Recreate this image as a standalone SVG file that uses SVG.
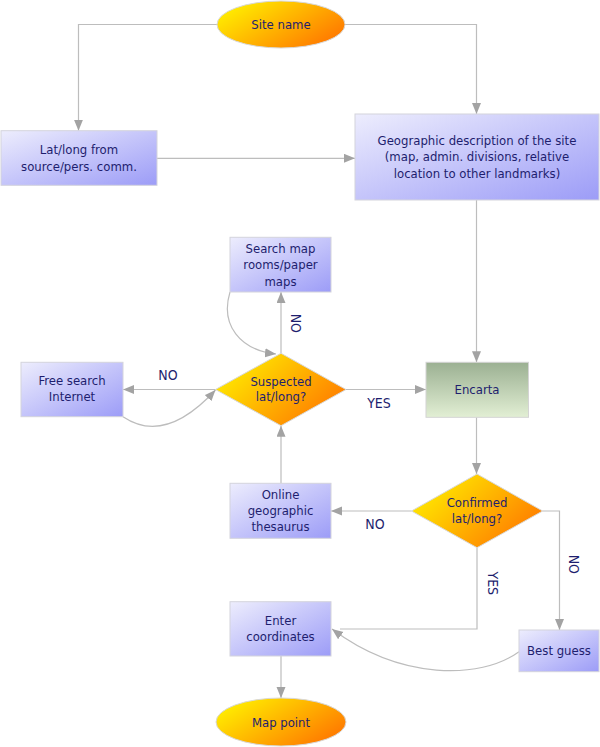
<svg xmlns="http://www.w3.org/2000/svg" width="600" height="747" viewBox="0 0 600 747">
<style>
.box{fill:url(#boxGrad);stroke:#d4d4dc;stroke-width:1}
.oval{fill:url(#ovalGrad);stroke:#d8d8d8;stroke-width:1}
.t{font-family:"DejaVu Sans Condensed","DejaVu Sans",sans-serif;font-size:13px;fill:#1e1e6e;text-anchor:middle}
.lbl{font-family:"DejaVu Sans Condensed","DejaVu Sans",sans-serif;font-size:14px;fill:#1e1e6e;text-anchor:middle}
.c{fill:none;stroke:#bdbdbd;stroke-width:1.2}
.a{marker-end:url(#arr)}
</style>
<defs>
<linearGradient id="boxGrad" x1="0" y1="0" x2="1" y2="1">
<stop offset="0" stop-color="#ededfd"/>
<stop offset="1" stop-color="#9c9cf7"/>
</linearGradient>
<linearGradient id="ovalGrad" x1="0" y1="0.2" x2="1" y2="0.8">
<stop offset="0" stop-color="#fff200"/>
<stop offset="1" stop-color="#ff7300"/>
</linearGradient>
<linearGradient id="greenGrad" x1="0" y1="0" x2="0" y2="1">
<stop offset="0" stop-color="#9bb092"/>
<stop offset="1" stop-color="#e2efd4"/>
</linearGradient>
<marker id="arr" markerUnits="userSpaceOnUse" markerWidth="12" markerHeight="10" refX="11" refY="4.5" orient="auto">
<path d="M0,0 L11,4.5 L0,9 z" fill="#a3a3a3"/>
</marker>
</defs>
<g id="connectors">
<path class="c a" d="M217,24.5 H78.5 V130.7"/>
<path class="c a" d="M345,24.5 H476.5 V114"/>
<path class="c a" d="M157,158.3 H355"/>
<path class="c a" d="M476.5,200 V362.3"/>
<path class="c a" d="M346,389.5 H426"/>
<path class="c a" d="M215.5,389.5 H123"/>
<path class="c a" d="M123,416.7 Q165,445 215.5,390"/>
<path class="c a" d="M281,353.3 V292"/>
<path class="c a" d="M230,292 C220,325 240,350 276,354"/>
<path class="c a" d="M281,483.3 V425.7"/>
<path class="c a" d="M476.5,417.3 V474"/>
<path class="c a" d="M411.5,511 H331"/>
<path class="c a" d="M542.7,511 H559.5 V630"/>
<path class="c" d="M477,547.7 V629 H340"/>
<path class="c a" d="M519,651.7 C480,680 400,680 332,629"/>
<path class="c a" d="M281,656 V698"/>
<text class="lbl" x="168" y="380">NO</text>
<text class="lbl" x="379" y="408">YES</text>
<text class="lbl" transform="translate(295.5,323.3) rotate(90)" y="5">NO</text>
<text class="lbl" x="375" y="528.5">NO</text>
<text class="lbl" transform="translate(574,564.3) rotate(90)" y="5">NO</text>
<text class="lbl" transform="translate(492.5,583.3) rotate(90)" y="5">YES</text>
</g>
<g id="site">
<ellipse class="oval" cx="281" cy="24.5" rx="64" ry="23.5"/>
<text class="t" x="281" y="29">Site name</text>
</g>
<g id="latlong">
<rect class="box" x="1" y="130.7" width="156" height="54.6"/>
<text class="t" x="79" y="154">Lat/long from</text>
<text class="t" x="79" y="170.5">source/pers. comm.</text>
</g>
<g id="geo">
<rect class="box" x="355" y="114" width="244" height="86"/>
<text class="t" x="477" y="144.7">Geographic description of the site</text>
<text class="t" x="477" y="161.4">(map, admin. divisions, relative</text>
<text class="t" x="477" y="178">location to other landmarks)</text>
</g>
<g id="search">
<rect class="box" x="230" y="237.3" width="101" height="54.7"/>
<text class="t" x="280.5" y="252.7">Search map</text>
<text class="t" x="280.5" y="269">rooms/paper</text>
<text class="t" x="280.5" y="285.7">maps</text>
</g>
<g id="suspected">
<polygon class="oval" points="215.5,389.5 281,353.3 346,389.5 281,425.7"/>
<text class="t" x="281" y="385.7">Suspected</text>
<text class="t" x="281" y="401.4">lat/long?</text>
</g>
<g id="free">
<rect class="box" x="21" y="362.3" width="102" height="54.4"/>
<text class="t" x="72" y="385">Free search</text>
<text class="t" x="72" y="401.4">Internet</text>
</g>
<g id="encarta">
<rect x="426" y="362.3" width="102.5" height="55" fill="url(#greenGrad)" stroke="#d4d4d4" stroke-width="1"/>
<text class="t" x="477" y="393.7">Encarta</text>
</g>
<g id="online">
<rect class="box" x="230" y="483.3" width="101" height="55"/>
<text class="t" x="280.5" y="498.7">Online</text>
<text class="t" x="280.5" y="515.4">geographic</text>
<text class="t" x="280.5" y="531.4">thesaurus</text>
</g>
<g id="confirmed">
<polygon class="oval" points="411.5,511 477,474 542.7,511 477,547.7"/>
<text class="t" x="477" y="507">Confirmed</text>
<text class="t" x="477" y="523.4">lat/long?</text>
</g>
<g id="enter">
<rect class="box" x="230" y="601.7" width="101" height="54.3"/>
<text class="t" x="280.5" y="624.7">Enter</text>
<text class="t" x="280.5" y="640.7">coordinates</text>
</g>
<g id="best">
<rect class="box" x="519" y="630" width="80" height="41.7"/>
<text class="t" x="559" y="655">Best guess</text>
</g>
<g id="mappoint">
<ellipse class="oval" cx="281" cy="722" rx="65" ry="24"/>
<text class="t" x="281" y="726.5">Map point</text>
</g>
</svg>
